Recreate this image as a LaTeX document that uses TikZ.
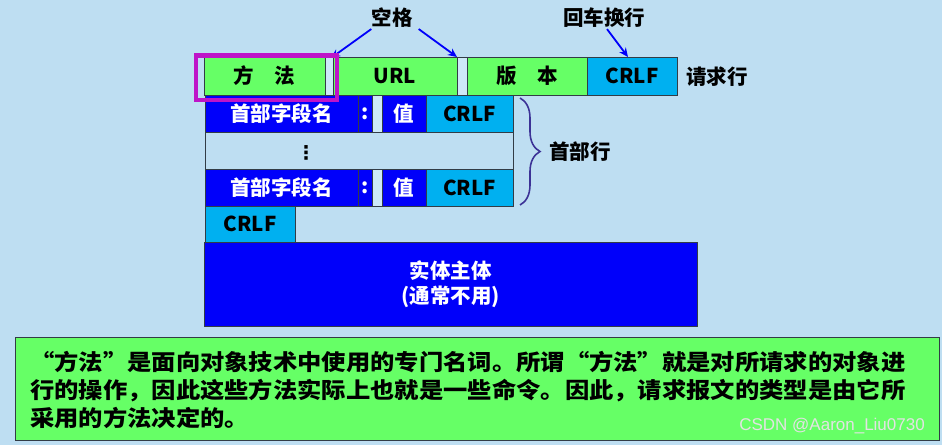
\documentclass[tikz,border=0pt]{standalone}
\usepackage{fontspec}
\setmainfont{Noto Sans CJK SC}
\newfontfamily\widefont[FakeStretch=1.1]{Noto Sans CJK SC}
\newfontfamily\wmfont{Liberation Sans}
\newfontfamily\symfont{DejaVu Sans}
\usetikzlibrary{arrows.meta,decorations.pathreplacing}
\definecolor{bgblue}{RGB}{190,222,242}
\definecolor{cgreen}{RGB}{102,255,102}
\definecolor{cblue}{RGB}{0,0,250}
\definecolor{ccyan}{RGB}{0,176,240}
\definecolor{cspace}{RGB}{205,232,248}
\definecolor{cmag}{RGB}{190,20,200}
\definecolor{cbrace}{RGB}{60,50,150}
\definecolor{cedge}{RGB}{50,60,70}
\tikzset{
  cell/.style={draw=cedge, line width=0.9pt, anchor=north west, inner sep=0pt, outer sep=0pt,
    font=\fontsize{20.5}{22}\selectfont\bfseries},
  gcell/.style={cell, fill=cgreen},
  ccell/.style={cell, fill=ccyan},
  bcell/.style={cell, fill=cblue, text=white},
  scell/.style={cell, fill=cspace},
  lbl/.style={font=\fontsize{20.5}{22}\selectfont\bfseries, inner sep=0pt},
  arr/.style={draw=cblue, line width=1.8pt, -{Stealth[length=9pt,width=8pt]}},
}
\begin{document}
\begin{tikzpicture}[x=1pt,y=-1pt]
\fill[bgblue] (0,0) rectangle (942,445);
\useasboundingbox (0,0) rectangle (942,445);
% request line
\node[gcell, minimum width=121, minimum height=38] (ff) at (204,57) {方\hspace{1em}法};
\node[scell, minimum width=8, minimum height=38] (sp1) at (325,57) {};
\node[gcell, minimum width=124, minimum height=38] (url) at (333,57) {URL};
\node[scell, minimum width=10, minimum height=38] (sp2) at (457,57) {};
\node[gcell, minimum width=120, minimum height=38] (bb) at (467,57) {版\hspace{1em}本};
\node[ccell, minimum width=90, minimum height=38] (cr1) at (587,57) {CRLF};
\node[lbl, anchor=west] (qqh) at (686,77) {请求行};
% header rows
\node[bcell, minimum width=153, minimum height=37] (n1) at (205,95) {首部字段名};
\node[bcell, minimum width=14, minimum height=37] (c1) at (358,95) {:};
\node[scell, minimum width=10, minimum height=37] (s1) at (372,95) {};
\node[bcell, minimum width=44, minimum height=37] (v1) at (382,95) {值};
\node[ccell, minimum width=87, minimum height=37] (cr2) at (426,95) {CRLF};
\node[scell, fill=bgblue, minimum width=308, minimum height=37] (dots) at (205,132) {};
\node[inner sep=0pt, font=\symfont\fontsize{19}{20}\selectfont\bfseries] (dd) at (306,153) {⋮};
\node[bcell, minimum width=153, minimum height=37] (n2) at (205,169) {首部字段名};
\node[bcell, minimum width=14, minimum height=37] (c2) at (358,169) {:};
\node[scell, minimum width=10, minimum height=37] (s2) at (372,169) {};
\node[bcell, minimum width=44, minimum height=37] (v2) at (382,169) {值};
\node[ccell, minimum width=87, minimum height=37] (cr3) at (426,169) {CRLF};
\node[ccell, minimum width=90, minimum height=36] (cr4) at (205,206) {CRLF};
\node[bcell, minimum width=493, minimum height=84, align=center,
  font=\fontsize{20.5}{25}\selectfont\bfseries] (ent) at (204,242) {实体主体\\(通常不用)};
% brace
\draw[cbrace, line width=1.6pt, decorate, decoration={brace, amplitude=20pt}]
  (520,98) -- (520,205);
\node[lbl, anchor=west] (sbh) at (549,152) {首部行};
% labels and arrows
\node[lbl] (kg) at (392,18) {空格};
\node[lbl] (hc) at (604,18) {回车换行};
\draw[arr] ([yshift=-1pt]kg.south west) -- ([xshift=2pt,yshift=-1pt]sp1.north);
\draw[arr] ([xshift=6pt,yshift=-1pt]kg.south east) -- (sp2.north west);
\draw[arr] ([xshift=3pt,yshift=-1pt]hc.south) -- ([xshift=-4pt]cr1.north);
% magenta highlight
\node[draw=cmag, line width=4.5pt, minimum width=141, minimum height=44.5, anchor=north west, inner sep=0pt] (hl) at (193.5,53.25) {};
% bottom note
\node[draw=cedge, line width=1.2pt, fill=cgreen, minimum width=924, minimum height=103, anchor=north west, inner sep=0pt] (note) at (15,337) {};
\node[anchor=north west, inner sep=0pt, align=left, font=\widefont\fontsize{22.1}{28}\selectfont\bfseries] (nt) at (30,351)
  {“方法”是面向对象技术中使用的专门名词。所谓“方法”就是对所请求的对象进\\
   行的操作，因此这些方法实际上也就是一些命令。因此，请求报文的类型是由它所\\
   采用的方法决定的。};
\node[anchor=east, inner sep=0pt, text=white!78!gray, font=\wmfont\fontsize{17}{19}\selectfont] (wm) at (925,426) {CSDN @Aaron\_Liu0730};
\end{tikzpicture}
\end{document}
